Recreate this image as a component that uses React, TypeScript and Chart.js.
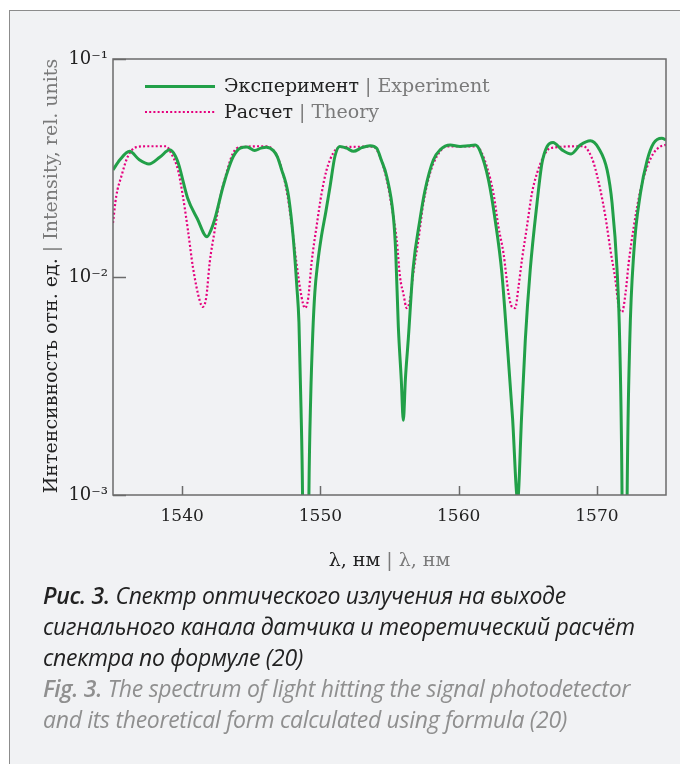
import React, { useEffect, useRef } from 'react';
import { Chart, registerables } from 'chart.js';

Chart.register(...registerables);

// ---- Data ----
const expWavelength = [
  1535.0, 1535.5, 1536.2, 1536.9, 1537.6, 1538.4, 1539.1, 1539.5, 1539.8, 1540.1,
  1540.4, 1541.1, 1541.8, 1542.1, 1542.35, 1542.96, 1543.4, 1543.7, 1544.2, 1544.7,
  1545.25, 1545.7, 1546.1, 1546.6, 1546.9, 1547.2, 1547.5, 1547.7, 1548.03, 1548.3,
  1548.45, 1548.6, 1548.71, 1548.94, 1549.17, 1549.3, 1549.45, 1549.6, 1549.8, 1550.05,
  1550.4, 1550.7, 1551.05, 1551.4, 1551.9, 1552.4, 1553.0, 1553.6, 1554.07, 1554.4,
  1554.8, 1555.28, 1555.45, 1555.64, 1555.85, 1556.0, 1556.15, 1556.36, 1556.7, 1557.2,
  1557.57, 1558.17, 1558.66, 1559.4, 1560.1, 1560.7, 1561.2, 1561.56, 1562.16, 1562.64,
  1563.13, 1563.5, 1563.9, 1564.27, 1564.55, 1564.82, 1565.18, 1565.67, 1566.03, 1566.4,
  1566.83, 1567.48, 1568.13, 1568.8, 1569.53, 1570.13, 1570.74, 1571.1, 1571.46, 1571.65,
  1571.82, 1572.0, 1572.19, 1572.38, 1572.67, 1573.15, 1573.64, 1574.1, 1574.7, 1575.0,
];
const expIntensity = [
  0.031, 0.0345, 0.0377, 0.0345, 0.033, 0.0355, 0.0383, 0.036, 0.0321, 0.027,
  0.023, 0.0185, 0.0153, 0.0165, 0.0183, 0.026, 0.032, 0.0357, 0.039, 0.0395,
  0.038, 0.039, 0.0394, 0.038, 0.0355, 0.031, 0.027, 0.0234, 0.0153, 0.009,
  0.0062, 0.0025, 0.001, 0.00001, 0.001, 0.0028, 0.0055, 0.0085, 0.0115, 0.015,
  0.02, 0.026, 0.0357, 0.0397, 0.039, 0.0377, 0.0392, 0.04, 0.039, 0.0345,
  0.0289, 0.0189, 0.013, 0.0059, 0.0034, 0.0022, 0.0034, 0.0052, 0.0108, 0.0183,
  0.025, 0.0344, 0.0383, 0.0403, 0.0397, 0.04, 0.0403, 0.0377, 0.0279, 0.0183,
  0.0104, 0.0051, 0.00226, 0.00095, 0.00226, 0.0051, 0.0108, 0.0218, 0.0333, 0.0397,
  0.0414, 0.0383, 0.0367, 0.0403, 0.0422, 0.039, 0.031, 0.0218, 0.0108, 0.0051,
  0.001, 0.00001, 0.001, 0.0051, 0.0129, 0.0242, 0.0344, 0.0411, 0.0433, 0.0425,
];

const theoryWavelength = [
  1535.0, 1535.23, 1535.6, 1536.07, 1536.68, 1537.6, 1538.85, 1539.2, 1539.7, 1540.06,
  1540.42, 1540.78, 1541.27, 1541.5, 1541.75, 1541.99, 1542.36, 1542.72, 1543.2, 1543.68,
  1544.17, 1546.1, 1546.58, 1547.07, 1547.55, 1547.91, 1548.27, 1548.64, 1548.88, 1549.12,
  1549.36, 1549.72, 1550.09, 1550.45, 1550.93, 1551.4, 1553.83, 1554.31, 1554.8, 1555.16,
  1555.52, 1555.76, 1556.0, 1556.25, 1556.49, 1556.72, 1557.09, 1557.45, 1557.93, 1558.42,
  1559.14, 1561.32, 1561.68, 1562.04, 1562.52, 1562.88, 1563.25, 1563.61, 1563.85, 1564.09,
  1564.33, 1564.58, 1564.94, 1565.3, 1565.67, 1566.14, 1566.63, 1569.04, 1569.4, 1569.77,
  1570.25, 1570.62, 1570.98, 1571.34, 1571.58, 1571.82, 1572.07, 1572.3, 1572.67, 1573.15,
  1573.64, 1574.1, 1574.6, 1575.0,
];
const theoryIntensity = [
  0.0177, 0.0234, 0.0289, 0.0357, 0.0394, 0.0398, 0.0398, 0.037, 0.031, 0.0234,
  0.0164, 0.0111, 0.0078, 0.0073, 0.0081, 0.0116, 0.0164, 0.0226, 0.0299, 0.037,
  0.0394, 0.0398, 0.0383, 0.0333, 0.0251, 0.0177, 0.0116, 0.0081, 0.0072, 0.008,
  0.0116, 0.017, 0.0242, 0.031, 0.037, 0.0394, 0.0396, 0.0357, 0.0279, 0.021,
  0.0148, 0.01, 0.0084, 0.0072, 0.0079, 0.0104, 0.0148, 0.0218, 0.0299, 0.0357,
  0.0397, 0.0397, 0.037, 0.0321, 0.0242, 0.017, 0.0128, 0.0084, 0.0073, 0.0072,
  0.009, 0.012, 0.017, 0.0242, 0.0299, 0.0357, 0.039, 0.0398, 0.0377, 0.0333,
  0.0251, 0.0189, 0.0133, 0.0097, 0.0073, 0.0069, 0.0084, 0.0116, 0.017, 0.0251,
  0.0321, 0.037, 0.0397, 0.0404,
];

const xTicks = [1540, 1550, 1560, 1570];
const yTicks = [0.001, 0.01, 0.1];
const yTickLabels = ['10⁻³', '10⁻²', '10⁻¹'];
const legendRu = ['Эксперимент', 'Расчет'];
const legendEn = ['Experiment', 'Theory'];
const xTitleRu = 'λ, нм';
const xTitleEn = 'λ, нм';
const yTitleRu = 'Интенсивность отн. ед.';
const yTitleEn = 'Intensity, rel. units';

const GREEN = '#22a048';
const PINK = '#e5007d';
const DARK = '#222222';
const GRAY = '#7a7a7a';
const SERIF = '"DejaVu Serif", serif';

function drawTwoTone(ctx: CanvasRenderingContext2D, ru: string, en: string, x: number, y: number, align: 'left' | 'center') {
  const a = ru;
  const b = ' | ' + en;
  const wa = ctx.measureText(a).width;
  const wb = ctx.measureText(b).width;
  let start = x;
  if (align === 'center') start = x - (wa + wb) / 2;
  ctx.textAlign = 'left';
  ctx.fillStyle = DARK;
  ctx.fillText(a, start, y);
  ctx.fillStyle = GRAY;
  ctx.fillText(b, start + wa, y);
}

const decorPlugin = {
  id: 'decor',
  afterDraw(chart: any) {
    const { ctx, chartArea: a, scales } = chart;
    ctx.save();
    // tick marks (inward)
    ctx.strokeStyle = '#6b6b6b';
    ctx.lineWidth = 1.5;
    ctx.beginPath();
    xTicks.forEach((v) => {
      const x = Math.round(scales.x.getPixelForValue(v)) + 0.5;
      ctx.moveTo(x, a.bottom);
      ctx.lineTo(x, a.bottom - 9);
    });
    yTicks.forEach((v) => {
      const y = Math.round(scales.y.getPixelForValue(v)) + 0.5;
      ctx.moveTo(a.left, y);
      ctx.lineTo(a.left + 13, y);
    });
    ctx.stroke();
    // frame box
    ctx.strokeStyle = '#6b6b6b';
    ctx.lineWidth = 1.5;
    ctx.strokeRect(a.left, a.top, a.right - a.left, a.bottom - a.top);

    // legend
    ctx.font = `19px ${SERIF}`;
    ctx.textBaseline = 'middle';
    const rows = [86.5, 112];
    ctx.lineCap = 'butt';
    ctx.strokeStyle = GREEN;
    ctx.lineWidth = 3;
    ctx.setLineDash([]);
    ctx.beginPath();
    ctx.moveTo(145, rows[0]);
    ctx.lineTo(215, rows[0]);
    ctx.stroke();
    ctx.strokeStyle = PINK;
    ctx.lineWidth = 2.2;
    ctx.setLineDash([2, 2.2]);
    ctx.beginPath();
    ctx.moveTo(145, rows[1]);
    ctx.lineTo(216, rows[1]);
    ctx.stroke();
    ctx.setLineDash([]);
    for (let i = 0; i < 2; i++) {
      drawTwoTone(ctx, legendRu[i], legendEn[i], 224, rows[i] + 1, 'left');
    }

    // x title
    ctx.font = `19px ${SERIF}`;
    ctx.textBaseline = 'middle';
    drawTwoTone(ctx, xTitleRu, xTitleEn, (a.left + a.right) / 2, 561, 'center');

    // y title
    ctx.translate(52, 276);
    ctx.rotate(-Math.PI / 2);
    drawTwoTone(ctx, yTitleRu, yTitleEn, 0, 0, 'center');
    ctx.restore();
  },
};

export default function App() {
  const canvasRef = useRef<HTMLCanvasElement | null>(null);

  useEffect(() => {
    const canvas = canvasRef.current;
    if (!canvas) return;
    const chart = new Chart(canvas, {
      type: 'line',
      data: {
        datasets: [
          {
            label: 'Эксперимент | Experiment',
            data: expWavelength.map((x, i) => ({ x, y: expIntensity[i] })),
            borderColor: GREEN,
            borderWidth: 3,
            pointRadius: 0,
            cubicInterpolationMode: 'monotone',
            fill: false,
          },
          {
            label: 'Расчет | Theory',
            data: theoryWavelength.map((x, i) => ({ x, y: theoryIntensity[i] })),
            borderColor: PINK,
            borderWidth: 2.2,
            borderDash: [2, 2.2],
            pointRadius: 0,
            cubicInterpolationMode: 'monotone',
            fill: false,
          },
        ],
      },
      options: {
        animation: false,
        responsive: false,
        devicePixelRatio: 1,
        layout: { padding: { top: 59, right: 14, left: 0, bottom: 0 } },
        plugins: {
          legend: { display: false },
          tooltip: { enabled: false },
          title: { display: false },
        },
        scales: {
          x: {
            type: 'linear',
            min: 1535,
            max: 1575,
            grid: { display: false, drawTicks: false },
            border: { display: false },
            afterBuildTicks: (s: any) => {
              s.ticks = xTicks.map((v) => ({ value: v }));
            },
            afterFit: (s: any) => {
              s.height = 105;
            },
            ticks: {
              padding: 11,
              color: DARK,
              font: { family: SERIF, size: 17 },
              maxRotation: 0,
              callback: (v: any) => String(v),
            },
          },
          y: {
            type: 'logarithmic',
            min: 0.001,
            max: 0.1,
            grid: { display: false, drawTicks: false },
            border: { display: false },
            afterBuildTicks: (s: any) => {
              s.ticks = yTicks.map((v) => ({ value: v }));
            },
            afterFit: (s: any) => {
              s.width = 113;
            },
            ticks: {
              padding: 5,
              color: DARK,
              font: { family: SERIF, size: 18 },
              callback: (v: any) => {
                const i = yTicks.findIndex((t) => Math.abs(t - v) < t * 1e-6);
                return i >= 0 ? yTickLabels[i] : '';
              },
            },
          },
        },
      },
      plugins: [decorPlugin],
    });
    return () => chart.destroy();
  }, []);

  return (
    <div
      style={{
        position: 'fixed',
        left: 0,
        top: 0,
        width: 680,
        height: 764,
        background: '#ffffff',
        overflow: 'hidden',
      }}
    >
      <div
        style={{
          position: 'absolute',
          left: 9,
          top: 10,
          width: 720,
          height: 800,
          border: '1px solid #8c8c8c',
          background: '#f1f2f4',
        }}
      />
      <canvas
        ref={canvasRef}
        width={680}
        height={600}
        style={{ position: 'absolute', left: 0, top: 0, width: 680, height: 600 }}
      />
      <div
        style={{
          position: 'absolute',
          left: 43,
          top: 580,
          fontFamily: '"Open Sans", Lato, sans-serif',
          fontStyle: 'italic',
          fontSize: 23,
          lineHeight: '31px',
          color: '#222',
          whiteSpace: 'nowrap',
          letterSpacing: '-0.3px',
        }}
      >
        <div>
          <b style={{ fontWeight: 600 }}>Рис. 3.</b> Спектр оптического излучения на выходе
          <br />
          сигнального канала датчика и теоретический расчёт
          <br />
          спектра по формуле (20)
        </div>
        <div style={{ color: '#8f8f8f' }}>
          <b style={{ fontWeight: 600 }}>Fig. 3.</b> The spectrum of light hitting the signal photodetector
          <br />
          and its theoretical form calculated using formula (20)
        </div>
      </div>
    </div>
  );
}
